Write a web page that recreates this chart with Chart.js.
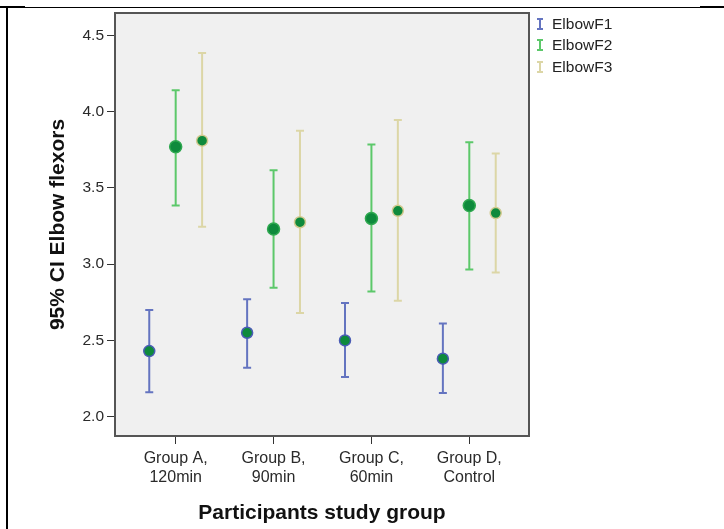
<!DOCTYPE html>
<html>
<head>
<meta charset="utf-8">
<script src="https://cdn.jsdelivr.net/npm/chart.js@4.4.1/dist/chart.umd.min.js"></script>
<style>
  html, body { margin: 0; padding: 0; background: #fff; }
  #wrap { position: relative; width: 724px; height: 529px; overflow: hidden; }
  #chart { position: absolute; left: 0; top: 0; }
  .line { position: absolute; background: #000; }
  #legend { position: absolute; left: 536px; top: 13px; font-family: "Liberation Sans", Arial, sans-serif; font-size: 15.5px; color: #222; }
  #legend .item { height: 21.5px; display: flex; align-items: center; }
  #legend svg { margin-right: 8px; }
</style>
</head>
<body>
<div id="wrap">
  <canvas id="chart" width="724" height="529"></canvas>
  <div class="line" style="left:7px; top:7px; width:717px; height:1px;"></div>
  <div class="line" style="left:0; top:6px; width:25px; height:2px;"></div>
  <div class="line" style="left:700px; top:6px; width:24px; height:2px;"></div>
  <div class="line" style="left:6px; top:7px; width:2px; height:522px;"></div>
  <div id="legend"></div>
</div>
<script>
const groups = [['Group A,', '120min'], ['Group B,', '90min'], ['Group C,', '60min'], ['Group D,', 'Control']];
const seriesNames = ['ElbowF1', 'ElbowF2', 'ElbowF3'];
const yTicks = [2.0, 2.5, 3.0, 3.5, 4.0, 4.5];

const f1Mean = [2.43, 2.55, 2.50, 2.38];
const f1Low = [2.16, 2.32, 2.26, 2.155];
const f1High = [2.70, 2.77, 2.745, 2.61];

const f2Mean = [3.77, 3.23, 3.30, 3.385];
const f2Low = [3.385, 2.845, 2.82, 2.965];
const f2High = [4.14, 3.615, 3.785, 3.80];

const f3Mean = [3.81, 3.275, 3.35, 3.335];
const f3Low = [3.245, 2.68, 2.76, 2.945];
const f3High = [4.385, 3.875, 3.945, 3.725];

const barColors = ['#6474c0', '#5cc86a', '#dcd6a6'];
const dotFill = '#0e8a3c';
const offsets = [-0.27, 0, 0.27];
const font = '"Liberation Sans", Arial, sans-serif';

function makeSeries(i, mean, low, high, radius, border) {
    return {
        label: seriesNames[i],
        data: mean.map((v, j) => ({ x: j + offsets[i], y: v })),
        low: low,
        high: high,
        barColor: barColors[i],
        showLine: false,
        pointRadius: radius,
        pointBackgroundColor: dotFill,
        pointBorderColor: border,
        pointBorderWidth: 1.5
    };
}

// draws the CI whiskers through the chart scales
const errorBars = {
    id: 'errorBars',
    beforeDatasetsDraw(chart) {
        const { ctx, scales: { x, y } } = chart;
        chart.data.datasets.forEach(ds => {
            ctx.save();
            ctx.strokeStyle = ds.barColor;
            ctx.lineWidth = 2;
            ds.data.forEach((p, j) => {
                const px = x.getPixelForValue(p.x);
                const top = y.getPixelForValue(ds.high[j]);
                const bot = y.getPixelForValue(ds.low[j]);
                ctx.beginPath();
                ctx.moveTo(px, top); ctx.lineTo(px, bot);
                ctx.moveTo(px - 4, top); ctx.lineTo(px + 4, top);
                ctx.moveTo(px - 4, bot); ctx.lineTo(px + 4, bot);
                ctx.stroke();
            });
            ctx.restore();
        });
    }
};

const plotBox = {
    id: 'plotBox',
    beforeDraw(chart) {
        const { ctx, chartArea: a } = chart;
        ctx.save();
        ctx.fillStyle = '#f0f0f0';
        ctx.fillRect(a.left, a.top, a.width, a.height);
        ctx.restore();
    },
    afterDraw(chart) {
        const { ctx, chartArea: a } = chart;
        ctx.save();
        ctx.strokeStyle = '#555';
        ctx.lineWidth = 2;
        ctx.strokeRect(a.left, a.top, a.width, a.height);
        ctx.restore();
    }
};

new Chart(document.getElementById('chart'), {
    type: 'scatter',
    data: {
        datasets: [
            makeSeries(0, f1Mean, f1Low, f1High, 5.5, '#4a5cb5'),
            makeSeries(1, f2Mean, f2Low, f2High, 6, '#2fa850'),
            makeSeries(2, f3Mean, f3Low, f3High, 5.5, '#d2ca90')
        ]
    },
    options: {
        responsive: false,
        animation: false,
        devicePixelRatio: 1,
        layout: { padding: { left: 0, top: 13, right: 195, bottom: 0 } },
        plugins: { legend: { display: false }, tooltip: { enabled: false } },
        scales: {
            x: {
                type: 'linear',
                min: -0.62,
                max: 3.61,
                afterBuildTicks: s => { s.ticks = groups.map((g, i) => ({ value: i })); },
                afterFit: s => { s.height = 93; },
                border: { display: false },
                grid: { drawOnChartArea: false, tickLength: 8, color: '#333' },
                ticks: {
                    padding: 5,
                    color: '#2a2a2a',
                    font: { family: font, size: 16, lineHeight: 1.2 },
                    callback: v => groups[v]
                },
                title: {
                    display: true,
                    text: 'Participants study group',
                    color: '#111',
                    font: { family: font, size: 21, weight: 'bold', lineHeight: 1.2 },
                    padding: { top: 0, bottom: 3 }
                }
            },
            y: {
                min: 1.873,
                max: 4.647,
                afterBuildTicks: s => { s.ticks = yTicks.map(v => ({ value: v })); },
                afterFit: s => { s.width = 115; },
                border: { display: false },
                grid: { drawOnChartArea: false, tickLength: 8, color: '#333' },
                ticks: {
                    padding: 3,
                    color: '#2a2a2a',
                    font: { family: font, size: 15.5 },
                    callback: v => v.toFixed(1)
                },
                title: {
                    display: true,
                    text: '95% CI Elbow flexors',
                    color: '#111',
                    font: { family: font, size: 21, weight: 'bold', lineHeight: 1.2 },
                    padding: { top: 46, bottom: 0 }
                }
            }
        }
    },
    plugins: [plotBox, errorBars]
});

// legend with the I-shaped whisker icon
const legend = document.getElementById('legend');
seriesNames.forEach((name, i) => {
    const c = barColors[i];
    legend.insertAdjacentHTML('beforeend',
        '<div class="item"><svg width="8" height="12">' +
        '<line x1="4" y1="1" x2="4" y2="11" stroke="' + c + '" stroke-width="2"/>' +
        '<line x1="1" y1="1" x2="7" y2="1" stroke="' + c + '" stroke-width="2"/>' +
        '<line x1="1" y1="11" x2="7" y2="11" stroke="' + c + '" stroke-width="2"/>' +
        '</svg><span>' + name + '</span></div>');
});
</script>
</body>
</html>
